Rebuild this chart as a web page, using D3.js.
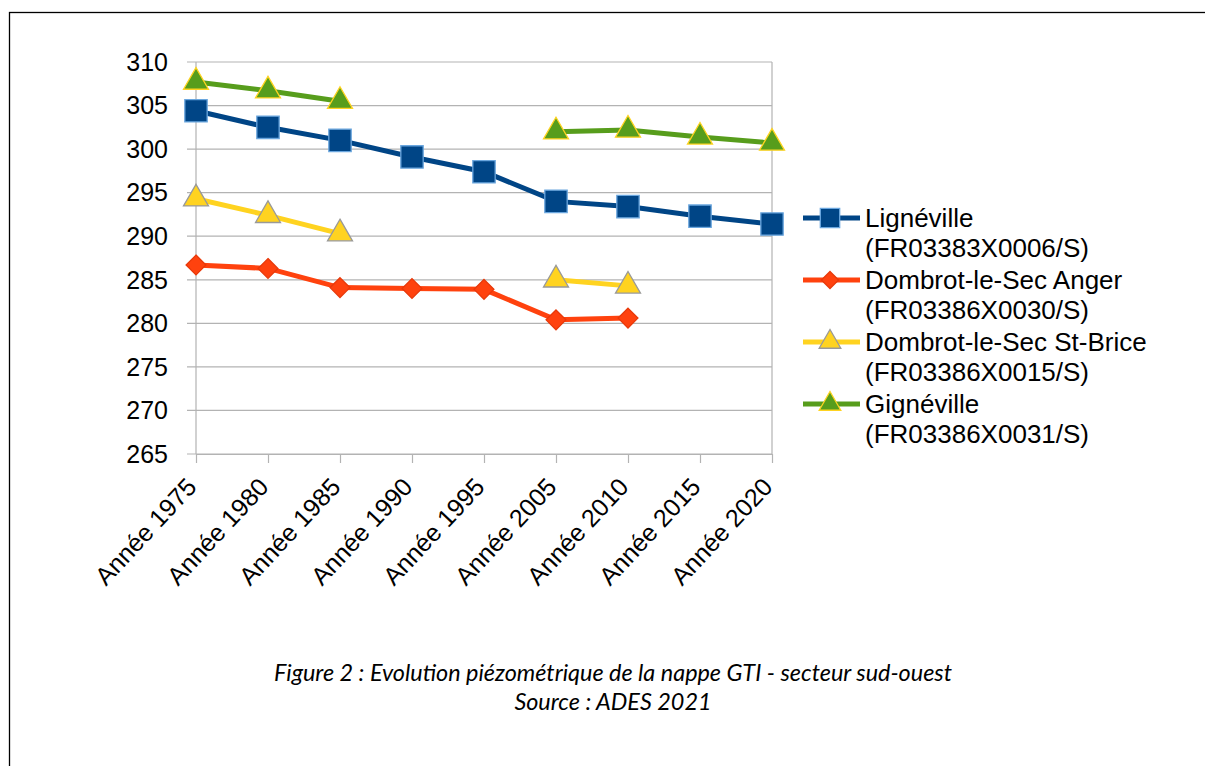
<!DOCTYPE html>
<html>
<head>
<meta charset="utf-8">
<script src="https://cdn.jsdelivr.net/npm/d3@7"></script>
<style>
  body { margin: 0; background: #fff; }
  svg { display: block; }
</style>
</head>
<body>
<svg id="chart" width="1205" height="766"></svg>
<script>
// categories and series
const years = ['Année 1975', 'Année 1980', 'Année 1985', 'Année 1990', 'Année 1995',
               'Année 2005', 'Année 2010', 'Année 2015', 'Année 2020']
const ligneville = [304.4, 302.5, 301.0, 299.1, 297.4, 294.0, 293.4, 292.3, 291.4]
const dombrotAnger = [286.7, 286.3, 284.1, 284.0, 283.9, 280.4, 280.6, null, null]
const dombrotStBrice = [294.3, 292.4, 290.3, null, null, 285.0, 284.3, null, null]
const gigneville = [307.7, 306.7, 305.5, null, null, 302.0, 302.2, 301.4, 300.7]
const yTicks = [265, 270, 275, 280, 285, 290, 295, 300, 305, 310]
const seriesNames = [
    ['Lignéville', '(FR03383X0006/S)'],
    ['Dombrot-le-Sec Anger', '(FR03386X0030/S)'],
    ['Dombrot-le-Sec St-Brice', '(FR03386X0015/S)'],
    ['Gignéville', '(FR03386X0031/S)']
]

const series = [
    {name: seriesNames[0], values: ligneville, line: '#004586', fill: '#004586', stroke: '#6aa6de', shape: d3.symbolSquare, size: 500},
    {name: seriesNames[1], values: dombrotAnger, line: '#ff420e', fill: '#ff420e', stroke: '#e8390a', shape: d3.symbolDiamond2, size: 250},
    {name: seriesNames[2], values: dombrotStBrice, line: '#ffd320', fill: '#ffd320', stroke: '#999999', shape: d3.symbolTriangle, size: 270},
    {name: seriesNames[3], values: gigneville, line: '#579d1c', fill: '#579d1c', stroke: '#ffd320', shape: d3.symbolTriangle, size: 270}
]

const font = 'Liberation Sans, Arial, sans-serif'
const svg = d3.select('#chart')

// outer frame
svg.append('rect')
    .attr('x', 9.5).attr('y', 12.5)
    .attr('width', 1300).attr('height', 900)
    .attr('fill', 'none').attr('stroke', '#000').attr('stroke-width', 1.3)

const margin = {top: 62, left: 196, right: 772, bottom: 454}

const x = d3.scalePoint()
    .domain(years)
    .range([margin.left, margin.right])

const y = d3.scaleLinear()
    .domain([265, 310])
    .range([margin.bottom, margin.top])

// grid
svg.append('g')
    .selectAll('line')
    .data(yTicks)
    .join('line')
        .attr('x1', margin.left - 9).attr('x2', margin.right)
        .attr('y1', d => y(d)).attr('y2', d => y(d))
        .attr('stroke', '#b3b3b3').attr('stroke-width', 1.2)

// left and right plot borders
svg.append('line')
    .attr('x1', margin.left).attr('x2', margin.left)
    .attr('y1', margin.top).attr('y2', margin.bottom)
    .attr('stroke', '#b3b3b3').attr('stroke-width', 1.2)
svg.append('line')
    .attr('x1', margin.right).attr('x2', margin.right)
    .attr('y1', margin.top).attr('y2', margin.bottom)
    .attr('stroke', '#b3b3b3').attr('stroke-width', 1.2)

// x axis
const xAxis = svg.append('g')
    .attr('transform', 'translate(0,' + margin.bottom + ')')
    .call(d3.axisBottom(x).tickSize(9).tickSizeOuter(0).tickFormat(''))
xAxis.select('.domain').attr('stroke', '#b3b3b3').attr('stroke-width', 1.2)
xAxis.selectAll('.tick line').attr('stroke', '#b3b3b3').attr('stroke-width', 1.2)

svg.append('g')
    .selectAll('text')
    .data(years)
    .join('text')
        .attr('transform', d => 'translate(' + (x(d) + 2) + ',' + (margin.bottom + 34) + ') rotate(-47)')
        .attr('text-anchor', 'end')
        .attr('font-family', font)
        .attr('font-size', '25px')
        .text(d => d)

// y labels
svg.append('g')
    .selectAll('text')
    .data(yTicks)
    .join('text')
        .attr('x', margin.left - 28)
        .attr('y', d => y(d))
        .attr('dy', '0.35em')
        .attr('text-anchor', 'end')
        .attr('font-family', font)
        .attr('font-size', '25px')
        .text(d => d)

// lines
const line = d3.line()
    .defined(d => d != null)
    .x((d, i) => x(years[i]))
    .y(d => y(d))

series.forEach(s => {
    svg.append('path')
        .datum(s.values)
        .attr('fill', 'none')
        .attr('stroke', s.line)
        .attr('stroke-width', 5)
        .attr('d', line)
})

series.forEach(s => {
    svg.append('g')
        .selectAll('path')
        .data(s.values.map((v, i) => ({v: v, i: i})).filter(d => d.v != null))
        .join('path')
            .attr('transform', d => 'translate(' + x(years[d.i]) + ',' + y(d.v) + ')')
            .attr('d', d3.symbol().type(s.shape).size(s.size))
            .attr('fill', s.fill)
            .attr('stroke', s.stroke)
            .attr('stroke-width', 1.3)
})

// legend
const legend = svg.append('g')
series.forEach((s, k) => {
    const ly = 218 + k * 62
    legend.append('line')
        .attr('x1', 803).attr('x2', 860)
        .attr('y1', ly).attr('y2', ly)
        .attr('stroke', s.line).attr('stroke-width', 5)
    legend.append('path')
        .attr('transform', 'translate(830,' + ly + ')')
        .attr('d', d3.symbol().type(s.shape).size(s.size * 0.75))
        .attr('fill', s.fill)
        .attr('stroke', s.stroke)
        .attr('stroke-width', 1.3)
    s.name.forEach((t, j) => {
        legend.append('text')
            .attr('x', 865)
            .attr('y', ly + j * 30)
            .attr('dy', '0.35em')
            .attr('font-family', font)
            .attr('font-size', '26px')
            .text(t)
    })
})

// caption
const caption = ['Figure 2 : Evolution piézométrique de la nappe GTI - secteur sud-ouest', 'Source : ADES 2021']
svg.append('g')
    .selectAll('text')
    .data(caption)
    .join('text')
        .attr('x', 613)
        .attr('y', (d, i) => 681 + i * 29)
        .attr('text-anchor', 'middle')
        .attr('font-family', 'Lato, sans-serif')
        .attr('font-style', 'italic')
        .attr('font-size', '23.4px')
        .text(d => d)
</script>
</body>
</html>
